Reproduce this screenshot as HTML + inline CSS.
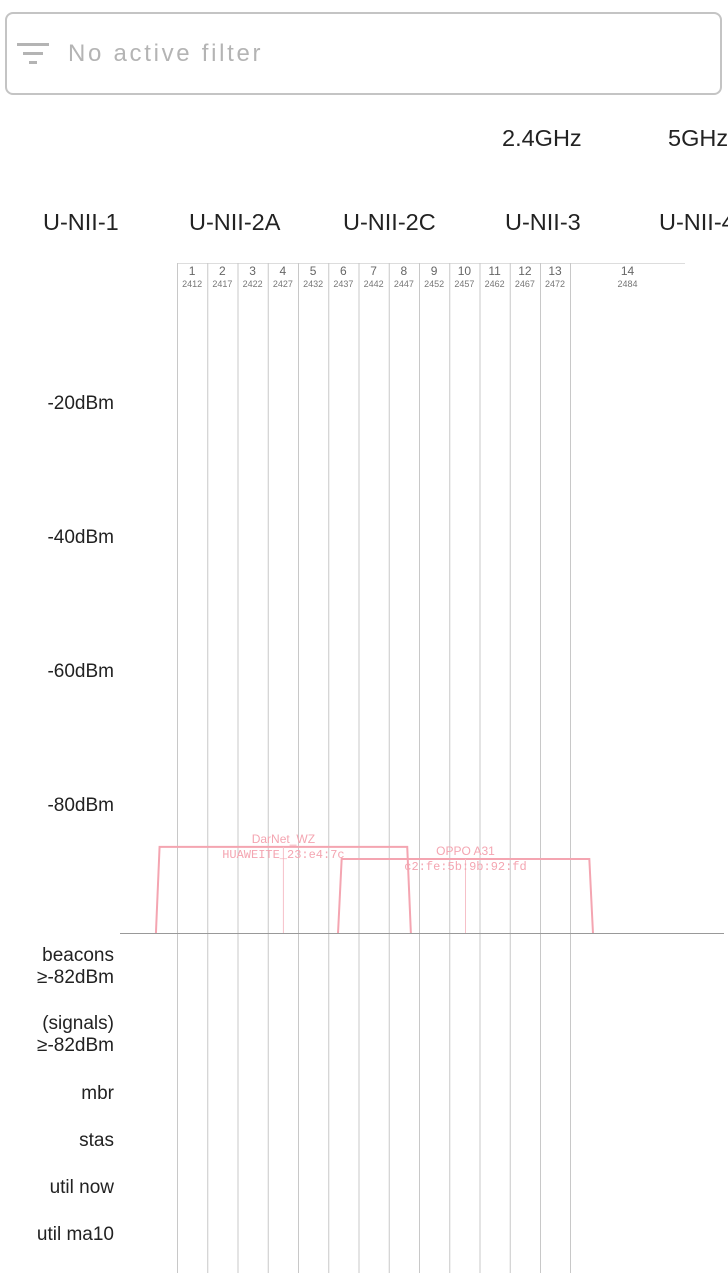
<!DOCTYPE html>
<html><head><meta charset="utf-8"><style>
body{margin:0;width:728px;height:1273px;background:#fff;overflow:hidden;font-family:"Liberation Sans",sans-serif;position:relative}
.filter{position:absolute;left:5px;top:12px;width:713px;height:79px;border:2px solid #c4c4c4;border-radius:8px}
.ft{position:absolute;left:61px;top:26px;font-size:24px;color:#b4b4b4;letter-spacing:2.7px}
.t{position:absolute;font-size:23.5px;color:#222;white-space:nowrap}
.r{position:absolute;right:614px;font-size:19px;color:#222;text-align:right;white-space:nowrap;line-height:22px}
</style></head><body>
<div class="filter">
<svg style="position:absolute;left:10px;top:29px" width="32" height="22"><rect x="0" y="0" width="32" height="3" fill="#b4b4b4"/><rect x="6" y="9" width="20" height="3" fill="#b4b4b4"/><rect x="12" y="18" width="8" height="3" fill="#b4b4b4"/></svg>
<div class="ft">No active filter</div>
</div>
<div class="t" style="left:502px;top:125px">2.4GHz</div>
<div class="t" style="left:668px;top:125px">5GHz</div>
<div class="t" style="left:43px;top:209px">U-NII-1</div>
<div class="t" style="left:189px;top:209px">U-NII-2A</div>
<div class="t" style="left:343px;top:209px">U-NII-2C</div>
<div class="t" style="left:505px;top:209px">U-NII-3</div>
<div class="t" style="left:659px;top:209px">U-NII-4</div>
<div class="r" style="top:393px">-20dBm</div>
<div class="r" style="top:527px">-40dBm</div>
<div class="r" style="top:661px">-60dBm</div>
<div class="r" style="top:795px">-80dBm</div>
<div class="r" style="top:945px">beacons<br>≥-82dBm</div>
<div class="r" style="top:1013px">(signals)<br>≥-82dBm</div>
<div class="r" style="top:1083px">mbr</div>
<div class="r" style="top:1130px">stas</div>
<div class="r" style="top:1177px">util now</div>
<div class="r" style="top:1224px">util ma10</div>
<svg id="ch" width="728" height="1273" style="position:absolute;left:0;top:0"></svg>
<script>
const channels=["1","2","3","4","5","6","7","8","9","10","11","12","13","14"];
const freqs=["2412","2417","2422","2427","2432","2437","2442","2447","2452","2457","2462","2467","2472","2484"];
const ssids=["DarNet_WZ","OPPO A31"];
const bssids=["HUAWEITE_23:e4:7c","c2:fe:5b:9b:92:fd"];
const centerFreq=[2432,2462];
const widthMHz=[40,40];
const levels=[-86.4,-88.2];
const NS="http://www.w3.org/2000/svg";
const svg=document.getElementById('ch');
function xf(f){return 162+(f-2412)*6.07;}
function yd(d){return 402+(-20-d)*6.7;}
function mk(t,a){const e=document.createElementNS(NS,t);for(const k in a)e.setAttribute(k,a[k]);svg.appendChild(e);return e;}
const base=933;
const colX=i=>i<13?177+i*30.25:570;
const box=mk('line',{x1:177,y1:263.5,x2:685,y2:263.5,stroke:'#ddd','stroke-width':1});


for(let i=0;i<channels.length;i++){
  const x0=colX(i), x1=i<13?colX(i+1):685;
  const l=mk('line',{x1:x0+0.5,y1:263,x2:x0+0.5,y2:1273,stroke:'#c8c8c8','stroke-width':1});
  
  
  const cx=(x0+x1)/2;
  const t=mk('text',{x:cx,y:275,'font-size':12,fill:'#666','text-anchor':'middle','font-family':'Liberation Sans'});
  t.textContent=channels[i];
  
  
  const t2=mk('text',{x:cx,y:287,'font-size':9,fill:'#777','text-anchor':'middle','font-family':'Liberation Sans'});
  t2.textContent=freqs[i];
  
  
}
const bl=mk('line',{x1:120,y1:base+0.5,x2:724,y2:base+0.5,stroke:'#999','stroke-width':1});


for(let i=0;i<ssids.length;i++){
  const c=centerFreq[i],w=widthMHz[i]/2,y=yd(levels[i]);
  const p=mk('polyline',{points:`${xf(c-w-1)},${base} ${xf(c-w-0.4)},${y} ${xf(c+w+0.4)},${y} ${xf(c+w+1)},${base}`,fill:'none',stroke:'#f4a5b1','stroke-width':2});
  
  
  const v=mk('line',{x1:xf(c),y1:y,x2:xf(c),y2:base,stroke:'#f6c0c8','stroke-width':1});
  
  
  const s=mk('text',{x:xf(c),y:y-4,'font-size':12,fill:'#f4a5b1','text-anchor':'middle','font-family':'Liberation Sans'});
  s.textContent=ssids[i];
  
  
  const b=mk('text',{x:xf(c),y:y+11,'font-size':12,fill:'#f4a5b1','text-anchor':'middle','font-family':'Liberation Mono'});
  b.textContent=bssids[i];
  
  
}
</script>
</body></html>
